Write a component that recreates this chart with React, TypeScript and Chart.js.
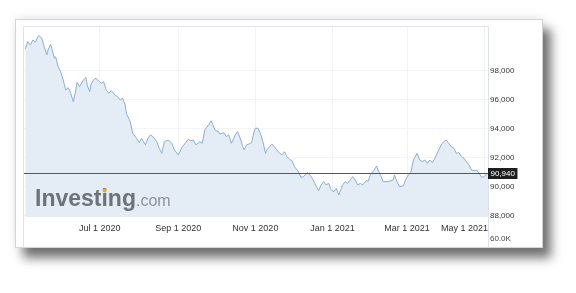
import React, { useEffect, useRef } from "react";
import { Chart, registerables } from "chart.js";

Chart.register(...registerables);

const dates = [
  "2020-05-03","2020-05-05","2020-05-07","2020-05-09","2020-05-11","2020-05-13","2020-05-14","2020-05-16","2020-05-18","2020-05-20",
  "2020-05-21","2020-05-23","2020-05-24","2020-05-26","2020-05-27","2020-05-29","2020-05-31","2020-06-02","2020-06-04","2020-06-06",
  "2020-06-08","2020-06-10","2020-06-12","2020-06-13","2020-06-15","2020-06-18","2020-06-20","2020-06-21","2020-06-23","2020-06-24",
  "2020-06-26","2020-06-28","2020-06-30","2020-07-02","2020-07-04","2020-07-06","2020-07-08","2020-07-10","2020-07-13","2020-07-15",
  "2020-07-17","2020-07-19","2020-07-21","2020-07-22","2020-07-25","2020-07-27","2020-07-30","2020-08-01","2020-08-03","2020-08-06",
  "2020-08-08","2020-08-10","2020-08-12","2020-08-15","2020-08-17","2020-08-19","2020-08-21","2020-08-24","2020-08-27","2020-08-29",
  "2020-09-01","2020-09-04","2020-09-09","2020-09-11","2020-09-13","2020-09-15","2020-09-18","2020-09-20","2020-09-22","2020-09-25",
  "2020-09-27","2020-09-28","2020-09-30","2020-10-03","2020-10-04","2020-10-07","2020-10-09","2020-10-11","2020-10-13","2020-10-15",
  "2020-10-16","2020-10-18","2020-10-20","2020-10-22","2020-10-23","2020-10-25","2020-10-28","2020-10-29","2020-10-31","2020-11-01",
  "2020-11-03","2020-11-05","2020-11-07","2020-11-09","2020-11-10","2020-11-14","2020-11-16","2020-11-19","2020-11-22","2020-11-24",
  "2020-11-26","2020-11-28","2020-11-30","2020-12-02","2020-12-05","2020-12-07","2020-12-09","2020-12-12","2020-12-14","2020-12-16",
  "2020-12-18","2020-12-21","2020-12-23","2020-12-25","2020-12-27","2020-12-29","2020-12-31","2021-01-02","2021-01-04","2021-01-06",
  "2021-01-09","2021-01-11","2021-01-13","2021-01-15","2021-01-17","2021-01-19","2021-01-21","2021-01-23","2021-01-25","2021-01-28",
  "2021-01-29","2021-01-31","2021-02-02","2021-02-05","2021-02-06","2021-02-08","2021-02-10","2021-02-14","2021-02-18","2021-02-19",
  "2021-02-21","2021-02-23","2021-02-26","2021-02-28","2021-03-02","2021-03-04","2021-03-06","2021-03-09","2021-03-11","2021-03-13",
  "2021-03-15","2021-03-17","2021-03-19","2021-03-21","2021-03-23","2021-03-26","2021-03-28","2021-03-30","2021-04-01","2021-04-03",
  "2021-04-05","2021-04-07","2021-04-09","2021-04-11","2021-04-13","2021-04-15","2021-04-17","2021-04-19","2021-04-21","2021-04-23",
  "2021-04-25","2021-04-27","2021-04-29","2021-05-01","2021-05-03","2021-05-04"
];

const prices = [
  99520,100020,99790,100140,99980,100370,100430,100260,99680,99100,
  99450,99840,99570,98880,98990,98300,97950,97380,96690,96850,
  96460,95880,96690,97220,96920,97380,97540,97030,96570,97080,
  97380,97500,97310,97150,97260,96690,96460,96640,96340,96230,
  96000,96120,95660,95080,94500,93700,93360,93050,93360,92900,
  93360,93590,93470,93120,92670,92320,93120,93240,93010,92550,
  92210,92740,93290,93190,93240,92900,93120,93010,93930,94280,
  94570,94390,93930,93810,93650,93740,93470,93590,93010,93360,
  93590,93810,93360,92780,92550,92900,93010,93050,93810,94050,
  94050,93700,93120,92320,92550,92970,92780,92430,92210,92430,
  92090,91910,91810,91400,91060,90670,90710,90990,90830,90600,
  90250,89740,90140,90370,90140,90250,89790,89680,89910,89450,
  90140,90370,90250,90480,90710,90480,90140,90250,90140,90480,
  90370,90830,91060,91450,91170,90830,90370,90370,90480,90830,
  90370,90020,90070,90530,90830,90990,91860,92320,91860,91740,
  91860,91630,91860,91680,91980,92550,92900,93120,93240,93010,
  92780,92670,92320,92370,92090,91980,91740,91520,91170,91120,
  91170,90940,90670,90710,90900,90940
];

const xTickDates = ["2020-07-01", "2020-09-01", "2020-11-01", "2021-01-01", "2021-03-01", "2021-05-01"];
const xTickLabels = ["Jul 1 2020", "Sep 1 2020", "Nov 1 2020", "Jan 1 2021", "Mar 1 2021", "May 1 2021"];
const yTicks = [88000, 90000, 92000, 94000, 96000, 98000];
const lastPrice = 90940;
const volumeLabel = "60.0K";
const xStart = "2020-05-02";
const xEnd = "2021-05-04";
const yMin = 87930;
const yMax = 101030;

const dayNum = (s: string) =>
  Date.UTC(+s.slice(0, 4), +s.slice(5, 7) - 1, +s.slice(8, 10)) / 86400000;

const fmt = (v: number) => v.toLocaleString("en-US");

const FONT = "'Liberation Sans', Arial, sans-serif";

const decorPlugin = {
  id: "decor",
  afterDatasetsDraw(chart: any) {
    const ctx = chart.ctx;
    ctx.save();
    ctx.textBaseline = "alphabetic";
    ctx.textAlign = "left";
    ctx.font = `bold 23px ${FONT}`;
    ctx.fillStyle = "#6e7379";
    const wx = 35, wy = 206;
    ctx.fillText("Investing", wx, wy);
    const wInvest = ctx.measureText("Invest").width;
    const wI = ctx.measureText("i").width;
    const wAll = ctx.measureText("Investing").width;
    ctx.fillStyle = "#f2a91c";
    ctx.beginPath();
    ctx.arc(wx + wInvest + wI / 2, wy - 15.5, 2, 0, Math.PI * 2);
    ctx.fill();
    ctx.font = `16px ${FONT}`;
    ctx.fillStyle = "#8d9298";
    ctx.fillText(".com", wx + wAll, wy);
    ctx.restore();
  },
  afterDraw(chart: any) {
    const ctx = chart.ctx;
    const area = chart.chartArea;
    const xs = chart.scales.x;
    const ys = chart.scales.y;
    ctx.save();
    ctx.strokeStyle = "#dfe3e7";
    ctx.lineWidth = 1;
    ctx.beginPath();
    ctx.moveTo(area.left - 0.5, 247.5);
    ctx.lineTo(area.left - 0.5, area.top - 0.5);
    ctx.lineTo(area.right + 0.5, area.top - 0.5);
    ctx.lineTo(area.right + 0.5, 247.5);
    ctx.stroke();
    const py = Math.round(ys.getPixelForValue(lastPrice)) + 0.5;
    ctx.strokeStyle = "#4d5862";
    ctx.beginPath();
    ctx.moveTo(area.left, py);
    ctx.lineTo(area.right, py);
    ctx.stroke();
    ctx.font = `8px ${FONT}`;
    const lbl = fmt(lastPrice);
    const tw = ctx.measureText(lbl).width;
    ctx.fillStyle = "#1e1e1e";
    ctx.fillRect(area.right, py - 5.5, tw + 5, 11);
    ctx.fillStyle = "#ffffff";
    ctx.textBaseline = "middle";
    ctx.textAlign = "left";
    ctx.fillText(lbl, area.right + 2.5, py + 0.5);
    ctx.fillStyle = "#444";
    ctx.fillText(volumeLabel, area.right + 2, 239);
    ctx.font = `9px ${FONT}`;
    ctx.fillStyle = "#333";
    xTickDates.forEach((d, i) => {
      const x = xs.getPixelForValue(dayNum(d));
      const w = ctx.measureText(xTickLabels[i]).width;
      let left = x - w / 2;
      if (left + w > area.right) left = area.right - w;
      ctx.fillText(xTickLabels[i], left, 229);
    });
    ctx.restore();
  },
};

export default function App() {
  const ref = useRef<HTMLCanvasElement | null>(null);

  useEffect(() => {
    if (!ref.current) return;
    const data = dates.map((d, i) => ({ x: dayNum(d), y: prices[i] }));
    const chart = new Chart(ref.current, {
      type: "line",
      data: {
        datasets: [
          {
            data,
            borderColor: "#8caed0",
            backgroundColor: "#e4edf6",
            borderWidth: 1,
            pointRadius: 0,
            fill: "start",
            tension: 0,
          },
        ],
      },
      options: {
        animation: false,
        responsive: false,
        devicePixelRatio: 1,
        layout: { padding: { left: 24, top: 27, right: 0, bottom: 0 } },
        plugins: { legend: { display: false }, tooltip: { enabled: false } },
        scales: {
          x: {
            type: "linear",
            min: dayNum(xStart),
            max: dayNum(xEnd),
            afterBuildTicks: (s: any) => {
              s.ticks = xTickDates.map((d) => ({ value: dayNum(d) }));
            },
            afterFit: (s: any) => {
              s.height = 76;
            },
            grid: { color: "#f1f3f5", drawTicks: false },
            border: { display: false },
            ticks: { display: false },
          },
          y: {
            position: "right",
            min: yMin,
            max: yMax,
            afterBuildTicks: (s: any) => {
              s.ticks = yTicks.map((v) => ({ value: v }));
            },
            afterFit: (s: any) => {
              s.width = 88;
            },
            grid: { color: "#f2f4f6", drawTicks: false },
            border: { display: false },
            ticks: {
              padding: 2,
              color: "#333",
              font: { family: FONT, size: 8 },
              callback: (v: any) => fmt(Number(v)),
            },
          },
        },
      },
      plugins: [decorPlugin],
    });
    return () => chart.destroy();
  }, []);

  return (
    <div
      style={{
        position: "fixed",
        left: 0,
        top: 0,
        width: 576,
        height: 293,
        background: "#fff",
        overflow: "hidden",
      }}
    >
      <div
        style={{
          position: "absolute",
          left: 15,
          top: 19,
          width: 528,
          height: 229,
          background: "#fff",
          border: "1px solid #d4d4d4",
          boxSizing: "border-box",
          boxShadow: "8px 10px 10px rgba(0,0,0,0.55), 0 -2px 8px rgba(0,0,0,0.08)",
        }}
      />
      <canvas
        ref={ref}
        width={576}
        height={293}
        style={{ position: "absolute", left: 0, top: 0, width: 576, height: 293 }}
      />
    </div>
  );
}
